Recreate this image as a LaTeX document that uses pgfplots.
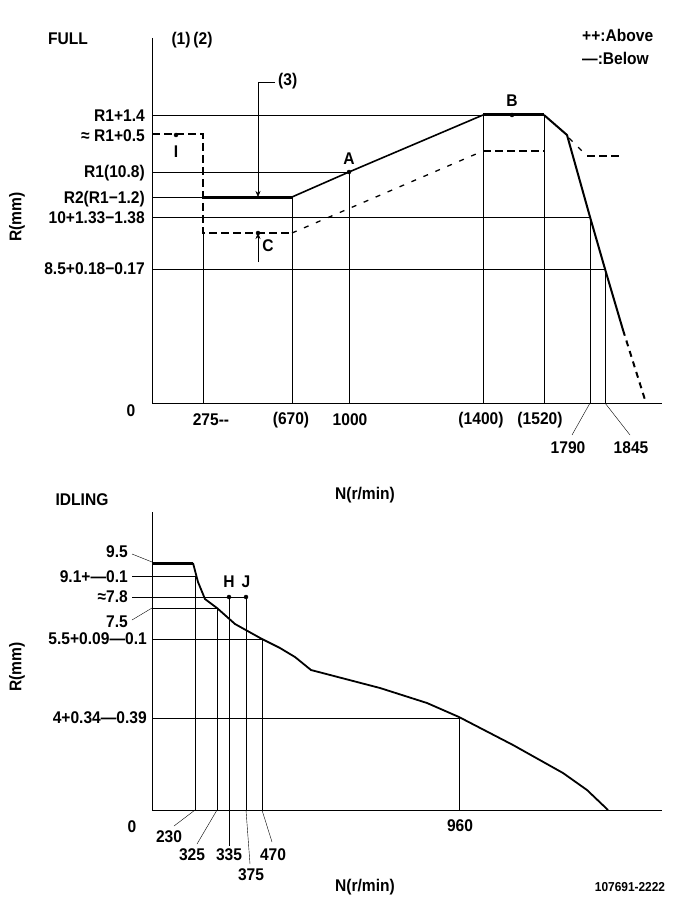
\documentclass[border=0pt]{standalone}
\usepackage{pgfplots}
\pgfplotsset{compat=1.18}
\usepackage{fontspec}
\setmainfont{Liberation Sans}[FakeStretch=0.92]
\usetikzlibrary{arrows.meta}
\tikzset{
  grid/.style={black, line width=1.2bp},
  curve/.style={black, line width=2bp},
  heavy/.style={black, line width=3bp},
  hdash/.style={black, line width=2.6bp, dash pattern=on 8bp off 4bp},
  ldash/.style={black, line width=1.3bp, dash pattern=on 5bp off 8bp},
  lbl/.style={font=\fontsize{17}{19}\selectfont\bfseries, inner sep=0pt},
  tip/.style={-{Stealth[length=6bp,width=5bp]}},
}
\begin{document}
\begin{tikzpicture}
\begin{axis}[
  width=685bp, height=906bp, scale only axis,
  xmin=0, xmax=685, ymin=0, ymax=906, y dir=reverse,
  hide axis, clip=false,
]
\addplot[draw=none] coordinates {(0,0) (685,906)};

% ---------- FULL ----------
\addplot[grid] coordinates {(152,38) (152,403)};
\addplot[grid] coordinates {(152,403) (662,403)};
\addplot[grid] coordinates {(152,115) (483,115)};
\addplot[grid] coordinates {(152,172) (349,172)};
\addplot[grid] coordinates {(152,197) (203,197)};
\addplot[grid] coordinates {(152,217) (590,217)};
\addplot[grid] coordinates {(152,269) (605,269)};
\addplot[grid] coordinates {(203,233) (203,403)};
\addplot[grid] coordinates {(292,197) (292,403)};
\addplot[grid] coordinates {(349,172) (349,403)};
\addplot[grid] coordinates {(483,115) (483,403)};
\addplot[grid] coordinates {(544,115) (544,403)};
\addplot[grid] coordinates {(590,217) (590,403)};
\addplot[grid] coordinates {(605,269) (605,403)};
\addplot[grid] coordinates {(590,403) (572,435)};
\addplot[grid] coordinates {(605,403) (630,435)};

% lower (dashed) curve
\addplot[hdash] coordinates {(152,134) (203,134) (203,233) (292,233)};
\addplot[ldash] coordinates {(292,233) (483,151)};
\addplot[hdash] coordinates {(483,151) (544,151)};
\addplot[ldash] coordinates {(569,138) (585,154)};
\addplot[hdash] coordinates {(587,156) (621,156)};

% upper (solid) curve
\addplot[heavy] coordinates {(203,197) (292,197)};
\addplot[curve, line width=1.6bp] coordinates {(292,197) (349,172) (483,115)};
\addplot[heavy] coordinates {(483,115) (544,115)};
\addplot[curve] coordinates {(544,115) (567,135) (590,217) (605,269) (623,330)};
\addplot[hdash, line width=2bp, dash pattern=on 6bp off 5bp] coordinates {(623,330) (646,403)};

% (3) arrows
\addplot[grid] coordinates {(275,82) (258,82)};
\addplot[grid, tip] coordinates {(258,82) (258,197)};
\addplot[grid, tip] coordinates {(258,262) (258,233)};

% points I, A, B, C
\addplot[only marks, mark=*, mark size=2bp] coordinates {(176,135) (349,172) (512,115) (258,233)};

\node[lbl] at (axis cs:68,39) {FULL};
\node[lbl] at (axis cs:192,40) {(1)\,(2)};
\node[lbl, anchor=west] at (axis cs:278,81) {(3)};
\node[lbl, anchor=west] at (axis cs:582,35) {++:Above};
\node[lbl, anchor=west] at (axis cs:582,58) {—:Below};
\node[lbl] at (axis cs:176,152) {I};
\node[lbl] at (axis cs:349,159) {A};
\node[lbl] at (axis cs:512,101) {B};
\node[lbl] at (axis cs:268,246) {C};

\node[lbl, anchor=east] at (axis cs:145,116) {R1+1.4};
\node[lbl, anchor=east] at (axis cs:145,136) {≈ R1+0.5};
\node[lbl, anchor=east] at (axis cs:145,173) {R1(10.8)};
\node[lbl, anchor=east] at (axis cs:145,199) {R2(R1−1.2)};
\node[lbl, anchor=east] at (axis cs:145,218) {10+1.33−1.38};
\node[lbl, anchor=east] at (axis cs:145,269) {8.5+0.18−0.17};
\node[lbl, rotate=90] at (axis cs:17,217) {R(mm)};
\node[lbl] at (axis cs:131,411) {0};

\node[lbl] at (axis cs:211,420) {275-{}-};
\node[lbl] at (axis cs:291,420) {(670)};
\node[lbl] at (axis cs:350,420) {1000};
\node[lbl] at (axis cs:481,420) {(1400)};
\node[lbl] at (axis cs:540,420) {(1520)};
\node[lbl] at (axis cs:568,448) {1790};
\node[lbl] at (axis cs:631,448) {1845};
\node[lbl] at (axis cs:365,495) {N(r/min)};

% ---------- IDLING ----------
\addplot[grid] coordinates {(152,512) (152,810)};
\addplot[grid] coordinates {(152,810) (662,810)};
\addplot[grid] coordinates {(132,554) (152,562)};
\addplot[grid] coordinates {(132,576) (195,576)};
\addplot[grid] coordinates {(132,597) (246,597)};
\addplot[grid] coordinates {(132,620) (152,608)};
\addplot[grid] coordinates {(152,608) (217,608)};
\addplot[grid] coordinates {(152,639) (262,639)};
\addplot[grid] coordinates {(152,718) (459,718)};
\addplot[grid] coordinates {(195,576) (195,810)};
\addplot[grid] coordinates {(195,810) (174,826)};
\addplot[grid] coordinates {(217,608) (217,810)};
\addplot[grid] coordinates {(217,810) (197,844)};
\addplot[grid] coordinates {(229,597) (229,846)};
\addplot[grid] coordinates {(246,597) (246,810)};
\addplot[grid] coordinates {(246,810) (250,864)};
\addplot[grid] coordinates {(262,639) (262,810)};
\addplot[grid] coordinates {(262,810) (272,842)};
\addplot[grid] coordinates {(459,718) (459,810)};

\addplot[heavy] coordinates {(152,563) (193,563)};
\addplot[curve, line width=1.8bp] coordinates {
  (193,563) (198,582) (205,599) (217,608) (235,624) (262,639)
  (280,648) (295,657) (311,670) (380,688) (427,703) (459,717)
  (513,745) (563,773) (587,790) (608,810)};

\addplot[only marks, mark=*, mark size=2bp] coordinates {(229,597) (246,597)};

\node[lbl] at (axis cs:82,500) {IDLING};
\node[lbl] at (axis cs:229,582) {H};
\node[lbl] at (axis cs:246,582) {J};
\node[lbl, anchor=east] at (axis cs:128,552) {9.5};
\node[lbl, anchor=east] at (axis cs:128,577) {9.1+—0.1};
\node[lbl, anchor=east] at (axis cs:128,597) {≈7.8};
\node[lbl, anchor=east] at (axis cs:128,622) {7.5};
\node[lbl, anchor=east] at (axis cs:147,639) {5.5+0.09—0.1};
\node[lbl, anchor=east] at (axis cs:147,718) {4+0.34—0.39};
\node[lbl, rotate=90] at (axis cs:17,667) {R(mm)};
\node[lbl] at (axis cs:132,827) {0};
\node[lbl] at (axis cs:169,837) {230};
\node[lbl] at (axis cs:192,855) {325};
\node[lbl] at (axis cs:229,855) {335};
\node[lbl] at (axis cs:251,875) {375};
\node[lbl] at (axis cs:273,855) {470};
\node[lbl] at (axis cs:460,826) {960};
\node[lbl] at (axis cs:365,887) {N(r/min)};
\node[lbl, font=\fontsize{13}{15}\selectfont\bfseries] at (axis cs:630,887) {107691-2222};
\end{axis}
\end{tikzpicture}
\end{document}
